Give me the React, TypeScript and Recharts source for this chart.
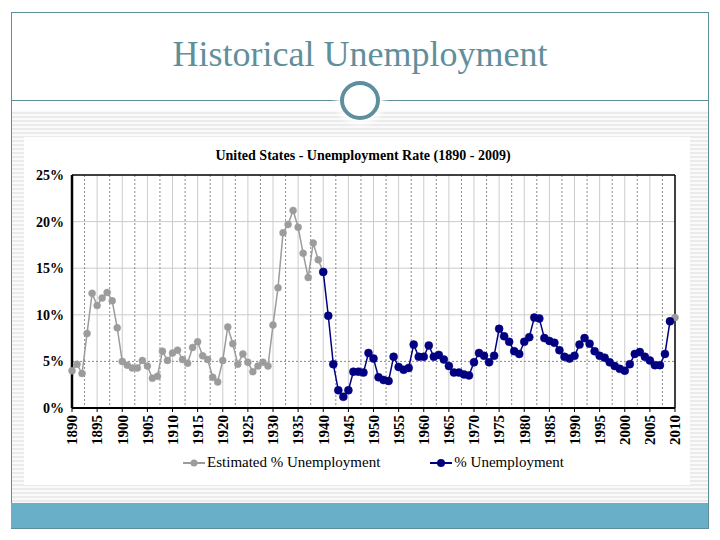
import React from "react"
import { LineChart, Line, XAxis, YAxis, CartesianGrid, Legend, ReferenceLine } from "recharts"

// estimated series, one value per year from 1890 to 1940
const estStart = 1890
const estimated = [
  4.0, 4.7, 3.7, 8.0, 12.3, 11.0, 11.8, 12.4, 11.5, 8.6,
  5.0, 4.6, 4.3, 4.3, 5.1, 4.5, 3.2, 3.4, 6.1, 5.1,
  5.9, 6.2, 5.2, 4.8, 6.5, 7.1, 5.6, 5.2, 3.3, 2.8,
  5.1, 8.7, 6.9, 4.7, 5.8, 4.9, 3.9, 4.5, 4.9, 4.5,
  8.9, 12.9, 18.8, 19.7, 21.2, 19.4, 16.6, 14.0, 17.7, 15.9,
  14.6,
]
const estTailYears = [2009, 2010]
const estTail = [9.3, 9.7]

// measured series, 1940 to 2009
const rateStart = 1940
const rate = [
  14.6, 9.9, 4.7, 1.9, 1.2, 1.9, 3.9, 3.9, 3.8, 5.9,
  5.3, 3.3, 3.0, 2.9, 5.5, 4.4, 4.1, 4.3, 6.8, 5.5,
  5.5, 6.7, 5.5, 5.7, 5.2, 4.5, 3.8, 3.8, 3.6, 3.5,
  4.9, 5.9, 5.6, 4.9, 5.6, 8.5, 7.7, 7.1, 6.1, 5.8,
  7.1, 7.6, 9.7, 9.6, 7.5, 7.2, 7.0, 6.2, 5.5, 5.3,
  5.6, 6.8, 7.5, 6.9, 6.1, 5.6, 5.4, 4.9, 4.5, 4.2,
  4.0, 4.7, 5.8, 6.0, 5.5, 5.1, 4.6, 4.6, 5.8, 9.3,
]

const xTicks = [
  1890, 1895, 1900, 1905, 1910, 1915, 1920, 1925, 1930, 1935, 1940, 1945,
  1950, 1955, 1960, 1965, 1970, 1975, 1980, 1985, 1990, 1995, 2000, 2005, 2010,
]
const yTicks = [0, 5, 10, 15, 20, 25]

const byYear: Record<number, { year: number; est?: number; rate?: number }> = {}
const row = (y: number) => (byYear[y] = byYear[y] || { year: y })
estimated.forEach((v, i) => (row(estStart + i).est = v))
estTailYears.forEach((y, i) => (row(y).est = estTail[i]))
rate.forEach((v, i) => (row(rateStart + i).rate = v))
const data = Object.values(byYear).sort((a, b) => a.year - b.year)

const solidV = xTicks.slice(1, -1)
const dashedV = xTicks.slice(0, -1).map((t) => t + 2.5)

const serif = "'Liberation Serif', 'Times New Roman', 'DejaVu Serif', serif"
const GRAY = "#9c9c9c"
const NAVY = "#000080"
const TEAL = "#5f8f9c"

const YearTick = ({ x, y, payload }: any) => (
  <text
    x={x}
    y={y + 1}
    transform={`rotate(-90, ${x}, ${y + 1})`}
    dy="0.35em"
    textAnchor="end"
    fontFamily={serif}
    fontWeight="bold"
    fontSize={15}
    fill="#000"
  >
    {payload.value}
  </text>
)

const LegendIcon = ({ color, r }: { color: string; r: number }) => (
  <svg width={22} height={10} style={{ marginRight: 2 }}>
    <line x1={0} y1={5} x2={22} y2={5} stroke={color} strokeWidth={2} />
    <circle cx={11} cy={5} r={r} fill={color} />
  </svg>
)

const renderLegend = () => (
  <div
    style={{
      display: "flex",
      justifyContent: "center",
      gap: 50,
      fontFamily: serif,
      fontSize: 15,
      color: "#000",
      marginLeft: 40,
    }}
  >
    <span style={{ display: "flex", alignItems: "center" }}>
      <LegendIcon color={GRAY} r={3.5} />
      Estimated % Unemployment
    </span>
    <span style={{ display: "flex", alignItems: "center" }}>
      <LegendIcon color={NAVY} r={4} />
      % Unemployment
    </span>
  </div>
)

export default function App() {
  return (
    <div style={{ position: "relative", width: 720, height: 540, background: "#fff", overflow: "hidden" }}>
      <style>{`body{margin:0}`}</style>
      {/* slide frame */}
      <div
        style={{
          position: "absolute",
          left: 12,
          top: 110,
          width: 696,
          height: 393,
          background: "repeating-linear-gradient(to bottom, #fafafa 0px, #fafafa 2px, #ebebeb 2px, #ebebeb 4px)",
        }}
      />
      <div
        style={{
          position: "absolute",
          left: 11,
          top: 12,
          width: 696,
          height: 515,
          border: `1px solid ${TEAL}`,
        }}
      />
      <div
        style={{
          position: "absolute",
          left: 11,
          top: 503,
          width: 697,
          height: 25,
          background: "#6aafc8",
        }}
      />
      <div
        style={{
          position: "absolute",
          left: 0,
          top: 33,
          width: 720,
          textAlign: "center",
          fontFamily: serif,
          fontSize: 36,
          color: TEAL,
        }}
      >
        Historical Unemployment
      </div>
      <div style={{ position: "absolute", left: 12, top: 100, width: 328, height: 1, background: TEAL }} />
      <div style={{ position: "absolute", left: 382, top: 100, width: 326, height: 1, background: TEAL }} />
      <div
        style={{
          position: "absolute",
          left: 340,
          top: 81,
          width: 32,
          height: 31,
          borderRadius: "50%",
          border: `4px solid ${TEAL}`,
          background: "#fff",
          boxShadow: "0 0 6px 4px #fff",
        }}
      />

      {/* chart card */}
      <div
        style={{
          position: "absolute",
          left: 24,
          top: 137,
          width: 666,
          height: 348,
          background: "#fff",
        }}
      >
        <div
          style={{
            position: "absolute",
            left: 0,
            top: 11,
            width: 666,
            textAlign: "center",
            fontFamily: serif,
            fontWeight: "bold",
            fontSize: 14,
            color: "#000",
            paddingLeft: 12,
            boxSizing: "border-box",
          }}
        >
          United States - Unemployment Rate (1890 - 2009)
        </div>
        <LineChart width={666} height={348} data={data} margin={{ top: 38, right: 15, bottom: 14, left: 8 }}>
          <CartesianGrid
            horizontalValues={[10, 15, 20]}
            verticalValues={solidV}
            stroke="#cccccc"
            strokeWidth={1}
          />
          <CartesianGrid
            horizontalValues={[5]}
            verticalValues={dashedV}
            stroke="#8a8a8a"
            strokeDasharray="2 2"
            strokeWidth={1}
          />
          <XAxis
            type="number"
            dataKey="year"
            domain={[1890, 2010]}
            ticks={xTicks}
            interval={0}
            tick={<YearTick />}
            tickSize={4}
            tickLine={{ stroke: "#000" }}
            axisLine={{ stroke: "#000", strokeWidth: 2 }}
            height={46}
          />
          <YAxis
            domain={[0, 25]}
            ticks={yTicks}
            tickFormatter={(v) => `${v}%`}
            tick={{ fontFamily: serif, fontWeight: "bold", fontSize: 14, fill: "#000" }}
            tickLine={false}
            axisLine={{ stroke: "#000", strokeWidth: 2.5 }}
            width={40}
          />
          <ReferenceLine y={25} stroke="#000" strokeWidth={1.5} />
          <ReferenceLine x={2010} stroke="#000" strokeWidth={1.5} />
          <Legend verticalAlign="bottom" content={renderLegend} />
          <Line
            dataKey="est"
            stroke={GRAY}
            strokeWidth={1.5}
            dot={{ r: 3.5, fill: GRAY, stroke: GRAY, strokeWidth: 0.5 }}
            isAnimationActive={false}
          />
          <Line
            dataKey="rate"
            stroke={NAVY}
            strokeWidth={1.5}
            dot={{ r: 4, fill: NAVY, stroke: NAVY, strokeWidth: 0.5 }}
            isAnimationActive={false}
          />
        </LineChart>
      </div>
    </div>
  )
}
